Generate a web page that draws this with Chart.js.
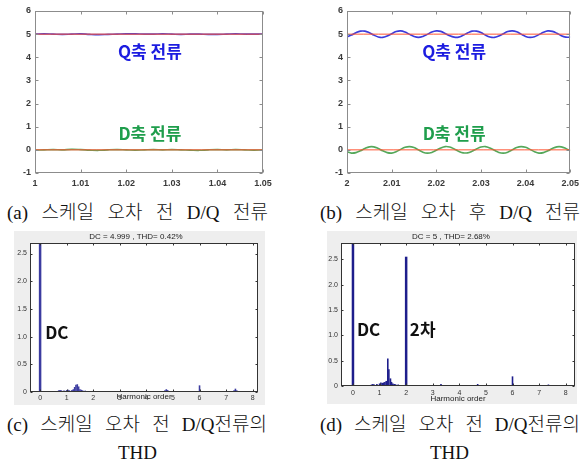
<!DOCTYPE html>
<html><head><meta charset="utf-8">
<script src="https://cdn.jsdelivr.net/npm/chart.js@4.4.1/dist/chart.umd.min.js"></script>
<style>
html,body{margin:0;padding:0;background:#fff;}
body{width:584px;height:467px;position:relative;overflow:hidden;}
canvas{position:absolute;}
.cap{position:absolute;white-space:nowrap;font-family:"Liberation Serif","Noto Sans CJK KR",serif;font-size:19px;font-weight:300;line-height:20px;color:#111;text-align:justify;text-align-last:justify;}
</style></head><body>
<canvas id="cA" width="292" height="195" style="left:0;top:0"></canvas>
<canvas id="cB" width="292" height="195" style="left:292px;top:0"></canvas>
<canvas id="cC" width="251" height="174" style="left:14px;top:231px"></canvas>
<canvas id="cD" width="250" height="173" style="left:327px;top:231px"></canvas>
<div class="cap" style="left:7px;top:203px;width:261px">(a) 스케일 오차 전 D/Q 전류</div>
<div class="cap" style="left:320px;top:203px;width:260px">(b) 스케일 오차 후 D/Q 전류</div>
<div class="cap" style="left:7px;top:415px;width:260px">(c) 스케일 오차 전 D/Q전류의</div>
<div class="cap" style="left:118px;top:443px;text-align:left;text-align-last:auto">THD</div>
<div class="cap" style="left:320px;top:415px;width:260px">(d) 스케일 오차 전 D/Q전류의</div>
<div class="cap" style="left:430px;top:443px;text-align:left;text-align-last:auto">THD</div>
<script>
// ---- (a) before scale error ----
const timeA = [1.000,1.002,1.004,1.006,1.008,1.010,1.012,1.014,1.016,1.018,1.020,1.022,1.024,1.026,1.028,1.030,1.032,1.034,1.036,1.038,1.040,1.042,1.044,1.046,1.048,1.050];
const qCurrentA = [5.00,5.01,5.00,4.99,5.00,5.01,4.99,4.98,4.99,5.00,5.01,5.01,5.00,5.00,5.01,5.00,4.99,5.00,5.00,4.99,4.99,5.00,5.01,5.00,5.00,5.00];
const dCurrentA = [-0.01,0.00,0.01,0.00,0.02,0.01,-0.01,-0.02,0.00,0.01,0.00,-0.01,0.00,0.01,0.00,0.01,0.00,-0.01,-0.02,0.00,0.01,0.00,0.01,0.00,-0.01,0.00];
const refTimeA = [1.00,1.05];
// ---- (b) after scale error ----
const timeB = [2.000,2.001,2.002,2.003,2.004,2.005,2.006,2.007,2.008,2.009,2.010,2.011,2.012,2.013,2.014,2.015,2.016,2.017,2.018,2.019,2.020,2.021,2.022,2.023,2.024,2.025,2.026,2.027,2.028,2.029,2.030,2.031,2.032,2.033,2.034,2.035,2.036,2.037,2.038,2.039,2.040,2.041,2.042,2.043,2.044,2.045,2.046,2.047,2.048,2.049,2.050];
const qCurrentB = [4.88,4.96,5.06,5.13,5.13,5.06,4.96,4.88,4.86,4.92,5.02,5.11,5.14,5.09,4.99,4.90,4.86,4.90,4.99,5.09,5.14,5.12,5.03,4.93,4.87,4.87,4.95,5.05,5.13,5.13,5.07,4.96,4.88,4.86,4.92,5.02,5.11,5.14,5.10,5.00,4.90,4.86,4.89,4.98,5.08,5.14,5.12,5.04,4.93,4.87,4.87];
const dCurrentB = [-0.08,-0.14,-0.12,-0.04,0.06,0.13,0.13,0.06,-0.04,-0.12,-0.14,-0.08,0.02,0.11,0.14,0.10,0.00,-0.10,-0.14,-0.11,-0.02,0.08,0.14,0.12,0.04,-0.06,-0.13,-0.13,-0.06,0.04,0.12,0.14,0.08,-0.02,-0.11,-0.14,-0.10,0.00,0.10,0.14,0.11,0.02,-0.08,-0.14,-0.12,-0.04,0.06,0.13,0.13,0.06,-0.04];
const refTimeB = [2.00,2.05];
const qReference = [5,5];
const dReference = [0,0];
// ---- (c) harmonic spectrum before ----
const mainOrderC = [0];
const mainAmpC = [4.999];
const orderC = [0.1,0.2,0.3,0.4,0.5,0.6,0.7,0.75,0.8,0.9,1.0,1.05,1.1,1.2,1.25,1.3,1.35,1.4,1.45,1.5,1.55,1.6,1.7,1.8,1.9,2.0,2.2,2.4,2.6,2.8,3.0,3.2,3.4,3.6,3.8,4.0,4.2,4.5,4.7,4.75,4.8,5.0,5.3,5.6,6.0,6.3,6.6,7.0,7.3,7.35,7.4,7.7,8.0,8.1];
const ampC = [0.01,0.01,0.012,0.01,0.015,0.02,0.03,0.035,0.03,0.028,0.035,0.04,0.03,0.038,0.05,0.09,0.13,0.14,0.1,0.05,0.04,0.03,0.025,0.02,0.015,0.02,0.015,0.01,0.015,0.01,0.02,0.015,0.01,0.01,0.01,0.015,0.01,0.01,0.03,0.05,0.035,0.01,0.01,0.01,0.12,0.01,0.01,0.01,0.03,0.06,0.03,0.01,0.01,0.01];
const titleC = 'DC = 4.999 , THD= 0.42%';
// ---- (d) harmonic spectrum after ----
const mainOrderD = [0,2];
const mainAmpD = [5,2.55];
const orderD = [0.1,0.2,0.3,0.5,0.7,0.75,0.8,0.9,1.0,1.05,1.1,1.15,1.2,1.25,1.31,1.35,1.41,1.45,1.5,1.55,1.6,1.7,1.8,2.3,2.6,2.9,3.1,3.31,3.5,3.8,4.0,4.3,4.69,4.75,5.0,5.3,5.6,6.0,6.3,6.64,7.0,7.35,7.7,7.99];
const ampD = [0.02,0.015,0.01,0.01,0.03,0.04,0.03,0.04,0.05,0.07,0.06,0.07,0.08,0.1,0.54,0.33,0.15,0.08,0.05,0.04,0.035,0.03,0.02,0.015,0.015,0.01,0.015,0.04,0.01,0.01,0.02,0.01,0.04,0.02,0.01,0.01,0.01,0.19,0.01,0.02,0.01,0.03,0.01,0.02];
const titleD = 'DC = 5 , THD= 2.68%';

const pts = (xs, ys) => xs.map((v, i) => ({x: v, y: ys[i]}));
const fmt = v => String(+Number(v).toFixed(3));

const decor = {
  id: 'decor',
  beforeDraw(chart, args, o) {
    const {ctx, chartArea: a, width, height} = chart;
    ctx.save();
    if (o.panel) { ctx.fillStyle = o.panel; ctx.fillRect(0, 0, width, height); }
    ctx.fillStyle = '#fff';
    ctx.fillRect(a.left, a.top, a.right - a.left, a.bottom - a.top);
    ctx.restore();
  },
  afterDatasetsDraw(chart, args, o) {
    const {ctx, chartArea: a, scales: {x, y}} = chart;
    ctx.save();
    ctx.strokeStyle = o.frame; ctx.lineWidth = 1;
    const l = Math.round(a.left) + 0.5, t = Math.round(a.top) + 0.5;
    const r = Math.round(a.right) - 0.5, b = Math.round(a.bottom) - 0.5;
    ctx.strokeRect(l, t, r - l, b - t);
    const L = o.tick;
    ctx.beginPath();
    x.ticks.forEach(tk => { const p = Math.round(x.getPixelForValue(tk.value)) + 0.5; ctx.moveTo(p, b); ctx.lineTo(p, b - L); ctx.moveTo(p, t); ctx.lineTo(p, t + L); });
    y.ticks.forEach(tk => { const p = Math.round(y.getPixelForValue(tk.value)) + 0.5; ctx.moveTo(l, p); ctx.lineTo(l + L, p); ctx.moveTo(r, p); ctx.lineTo(r - L, p); });
    ctx.stroke();
    (o.labels || []).forEach(lb => {
      ctx.font = lb.font; ctx.fillStyle = lb.color; ctx.textAlign = lb.align; ctx.textBaseline = 'middle';
      ctx.fillText(lb.text, x.getPixelForValue(lb.x), y.getPixelForValue(lb.y));
    });
    ctx.restore();
  }
};

const BLUE = '#3b3bdc', RED = '#ff5533', GREEN = '#55a85a';
const LBLUE = '#1c1ce0', LGREEN = '#1f9e4c';
const labFont = 'bold 17px "Noto Sans CJK KR", sans-serif';

function timeChart(id, time, q, d, refT, xmin, xmax, yW, padR, labelX) {
  const lineDs = (data, color, w) => ({type: 'line', data, borderColor: color, borderWidth: w, pointRadius: 0, tension: 0.4, fill: false});
  return new Chart(document.getElementById(id), {
    type: 'line',
    data: {datasets: [
      lineDs(pts(refT, qReference), RED, 1),
      lineDs(pts(refT, dReference), RED, 1),
      lineDs(pts(time, q), BLUE, 1.6),
      lineDs(pts(time, d), GREEN, 1.6)
    ]},
    options: {
      responsive: false, animation: false, events: [],
      layout: {padding: {top: 11, right: padR, left: 0, bottom: 0}},
      plugins: {legend: {display: false}, tooltip: {enabled: false},
        decor: {frame: '#8c8c8c', tick: 3, labels: [
          {text: 'Q축 전류', x: labelX, y: 4.23, color: LBLUE, font: labFont, align: 'center'},
          {text: 'D축 전류', x: labelX, y: 0.69, color: LGREEN, font: labFont, align: 'center'}
        ]}},
      scales: {
        x: {type: 'linear', min: xmin, max: xmax,
          grid: {display: false, drawTicks: false}, border: {display: false},
          ticks: {stepSize: 0.01, padding: 5, color: '#3a3a3a', font: {family: 'Liberation Sans', size: 9, weight: 'bold'}, callback: fmt, maxRotation: 0},
          afterFit: s => { s.height = 22; }},
        y: {type: 'linear', min: -1, max: 6,
          grid: {display: false, drawTicks: false}, border: {display: false},
          ticks: {stepSize: 1, padding: 4, color: '#3a3a3a', font: {family: 'Liberation Sans', size: 9, weight: 'bold'}},
          afterFit: s => { s.width = yW; }}
      }
    },
    plugins: [decor]
  });
}

timeChart('cA', timeA, qCurrentA, dCurrentA, refTimeA, 1, 1.05, 35, 29, 1.0252);
timeChart('cB', timeB, qCurrentB, dCurrentB, refTimeB, 2, 2.05, 55, 8, 2.024);

function specChart(id, mo, ma, ord, amp, title, xmin, xmax, ymax, pad, yW, xH, titlePadB, tickPad, color, labels) {
  return new Chart(document.getElementById(id), {
    type: 'bar',
    data: {datasets: [
      {data: pts(mo, ma), backgroundColor: color, barThickness: 2.5, inflateAmount: 0, grouped: false},
      {data: pts(ord, amp), backgroundColor: color, barThickness: 1.6, inflateAmount: 0, grouped: false}
    ]},
    options: {
      responsive: false, animation: false, events: [],
      layout: {padding: pad},
      plugins: {legend: {display: false}, tooltip: {enabled: false},
        title: {display: true, text: title, color: '#222', font: {family: 'Liberation Sans', size: 8, weight: 'normal'}, padding: {top: 1, bottom: 1.4}},
        decor: {panel: '#eeeeee', frame: '#333', tick: 2, labels}},
      scales: {
        x: {type: 'linear', min: xmin, max: xmax, offset: false,
          grid: {display: false, drawTicks: false}, border: {display: false},
          ticks: {stepSize: 1, includeBounds: false, padding: tickPad, color: '#333', font: {family: 'Liberation Sans', size: 7}, maxRotation: 0},
          title: {display: true, text: 'Harmonic order', color: '#222', font: {family: 'Liberation Sans', size: 8}, padding: {top: 0, bottom: titlePadB}},
          afterFit: s => { s.height = xH; }},
        y: {type: 'linear', min: 0, max: ymax,
          grid: {display: false, drawTicks: false}, border: {display: false},
          ticks: {stepSize: 0.5, includeBounds: false, padding: 3, color: '#333', font: {family: 'Liberation Sans', size: 7}},
          afterFit: s => { s.width = yW; }}
      }
    },
    plugins: [decor]
  });
}

const dcFont = 'bold 17px "Noto Sans CJK KR", sans-serif';
specChart('cC', mainOrderC, mainAmpC, orderC, ampC, titleC, -0.38, 8.2, 2.69,
  {top: 0, right: 7, left: 0, bottom: 0}, 16, 13, 3.5, 2, '#3c3ca0',
  [{text: 'DC', x: 0.19, y: 1.08, color: '#111', font: dcFont, align: 'left'}]);
specChart('cD', mainOrderD, mainAmpD, orderD, ampD, titleD, -0.45, 8.35, 2.82,
  {top: 0, right: 2, left: 0, bottom: 0}, 14, 18, 0, 2.5, '#1e1e8c',
  [{text: 'DC', x: 0.15, y: 1.11, color: '#111', font: dcFont, align: 'left'},
   {text: '2차', x: 2.14, y: 1.11, color: '#111', font: dcFont, align: 'left'}]);
</script>
</body></html>
